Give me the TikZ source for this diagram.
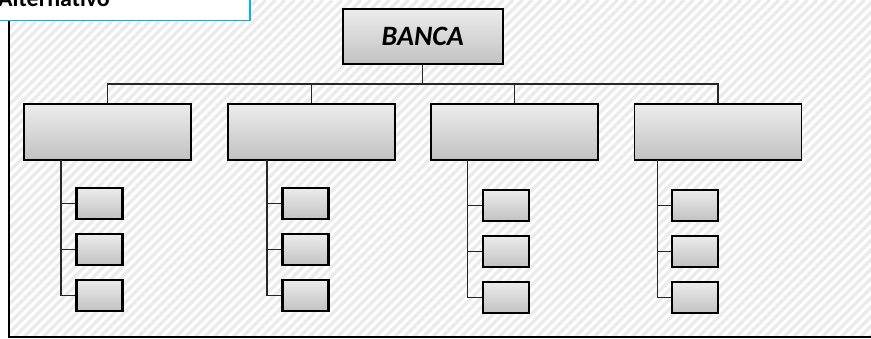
\documentclass[tikz,border=0pt]{standalone}
\usepackage{fontspec}
\setmainfont{Carlito}
\begin{document}
\begin{tikzpicture}[x=1pt,y=-1pt,
  mainbox/.style={draw=black,line width=1.8pt,top color=gray!15,bottom color=gray!48,
    minimum width=167pt,minimum height=56pt,inner sep=0pt},
  topbox/.style={mainbox,minimum width=160pt,minimum height=55pt,
    font=\fontsize{28}{30}\selectfont\bfseries\itshape},
  subbox/.style={draw=black,line width=2.4pt,top color=gray!15,bottom color=gray!48,
    minimum width=46pt,minimum height=31pt,inner sep=0pt},
  link/.style={draw=black!85,line width=1.2pt},
  hatch/.style={draw=black!8,line width=3.4pt},
  frame/.style={draw=black,line width=1.6pt},
  titlebox/.style={draw={rgb,255:red,0;green,176;blue,240},line width=1.5pt,fill=white}]
\useasboundingbox (0,0) rectangle (871,338);
\fill[white] (0,0) rectangle (871,338);
% diagonal hatching of the panel
\begin{scope}
  \clip (9,0) rectangle (871,337);
  \foreach \s in {-340,-330.5,...,880} {
    \draw[hatch] (\s,340) -- (\s+340,0);
  }
\end{scope}
% panel border
\draw[frame] (9,0) -- (9,337) -- (875,337);
% title tab
\draw[titlebox] (-5,-20) rectangle (250,20.5);
\node[anchor=base west,inner sep=0pt,font=\fontsize{24}{28}\selectfont\bfseries] (title) at (-2,6.5) {Alternativo};
% root
\node[topbox] (banca) at (422.7,36.8) {BANCA};
% departments
\node[mainbox] (m1) at (107.5,132) {};
\node[mainbox] (m2) at (311.5,132) {};
\node[mainbox] (m3) at (514.5,132) {};
\node[mainbox] (m4) at (718,132) {};
\coordinate (bus) at (422.7,84);
\draw[link] (banca.south) -- (bus);
\foreach \m in {m1,m2,m3,m4} {
  \draw[link] (bus) -| (\m.north);
}
% units under each department
\node[subbox] (s11) at (99.5,203.3) {};
\node[subbox] (s12) at (99.5,249.3) {};
\node[subbox] (s13) at (99.5,295.3) {};
\node[subbox] (s21) at (305.3,203.5) {};
\node[subbox] (s22) at (305.3,249.5) {};
\node[subbox] (s23) at (305.3,295.5) {};
\node[subbox] (s31) at (505.7,205.5) {};
\node[subbox] (s32) at (505.7,251.5) {};
\node[subbox] (s33) at (505.7,297.5) {};
\node[subbox] (s41) at (695.2,205.2) {};
\node[subbox] (s42) at (695.2,251.2) {};
\node[subbox] (s43) at (695.2,297.5) {};
\coordinate (v1) at (61,160);
\coordinate (v2) at (267,160);
\coordinate (v3) at (467.3,160);
\coordinate (v4) at (657.3,160);
\foreach \c in {1,2,3,4} {
  \foreach \r in {1,2,3} {
    \draw[link] (v\c) |- (s\c\r.west);
  }
}
\end{tikzpicture}
\end{document}
